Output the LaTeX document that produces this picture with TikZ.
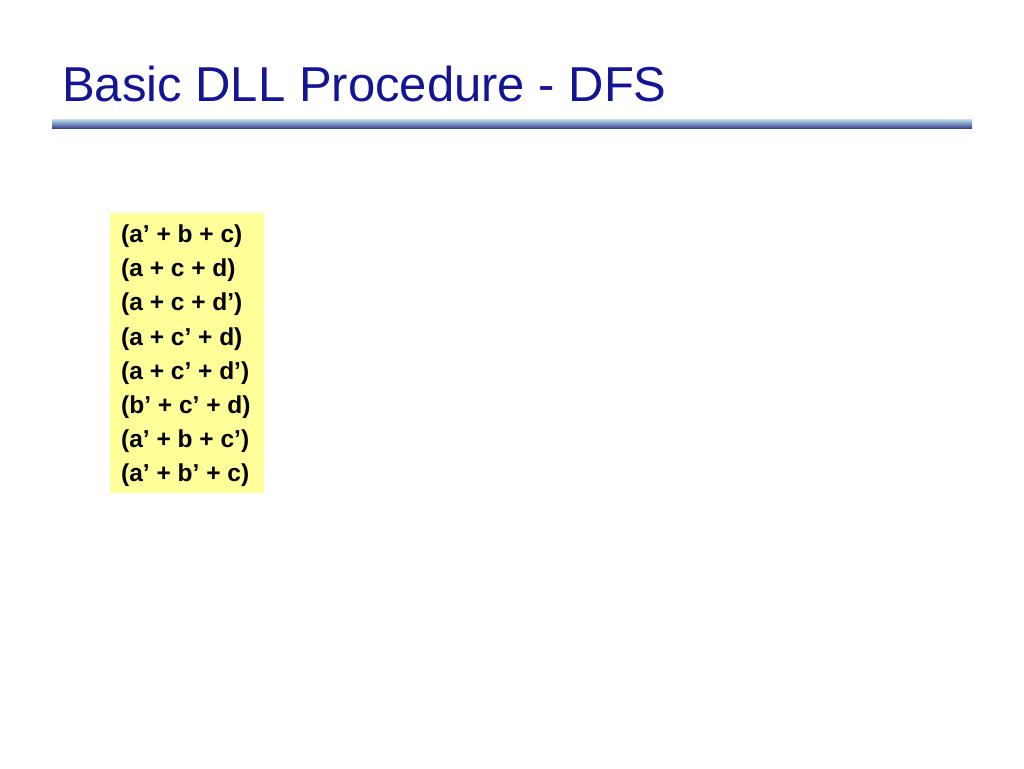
\documentclass[tikz,border=0pt]{standalone}
\usepackage{fontspec}
\setmainfont{Liberation Sans}
\definecolor{titleblue}{RGB}{20,20,150}
\definecolor{ruletop}{RGB}{190,225,235}
\definecolor{rulebot}{RGB}{60,70,150}
\definecolor{clausebg}{RGB}{255,255,153}
\tikzstyle{clause}=[anchor=west, font=\fontsize{24.5}{28}\selectfont\bfseries, inner sep=0pt]

\begin{document}
\begin{tikzpicture}[x=1pt, y=-1pt]
  \useasboundingbox (0,0) rectangle (1024,768);
  % title and rule
  \node [anchor=base west, inner sep=0pt, text=titleblue, font=\fontsize{49}{54}\selectfont] (title) at (62,101) {Basic DLL Procedure - DFS};
  \shade [top color=ruletop, bottom color=rulebot] (52,119) rectangle (972,128);
  % clause box
  \fill [clausebg] (110,213) rectangle (264,493);
  \foreach \c [count=\y] in {(a’ + b + c),(a + c + d),(a + c + d’),(a + c’ + d),(a + c’ + d’),(b’ + c’ + d),(a’ + b + c’),(a’ + b’ + c)}
    \node [clause] (clause-\y) at (121, 202+34.2*\y) {\c};
\end{tikzpicture}
\end{document}
